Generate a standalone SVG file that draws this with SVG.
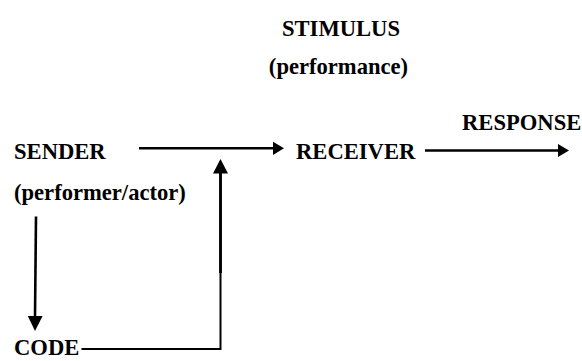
<svg xmlns="http://www.w3.org/2000/svg" width="582" height="361" viewBox="0 0 582 361">
<style>
text{font-family:'Liberation Serif','Times New Roman',serif;font-weight:700;font-size:22.6px;fill:#000}
.c{fill:none;stroke:#000;stroke-width:2.6}
.h{fill:#000}
</style>
<rect width="582" height="361" fill="#fff"/>
<g id="stimulus"><text x="341" y="36" text-anchor="middle">STIMULUS</text><text x="338.5" y="74" text-anchor="middle">(performance)</text></g>
<g id="sender"><text x="14" y="159">SENDER</text><text x="14" y="200">(performer/actor)</text></g>
<g id="receiver"><text x="296" y="158.5">RECEIVER</text></g>
<g id="response"><text x="462" y="130">RESPONSE</text></g>
<g id="code"><text x="14" y="355">CODE</text></g>
<g id="connectors">
<line class="c" x1="139" y1="148.3" x2="274" y2="148.3"/>
<polygon class="h" points="273,141.7 284,148.3 273,155"/>
<line class="c" x1="425" y1="150.5" x2="559" y2="150.5"/>
<polygon class="h" points="558,144 569,150.5 558,157"/>
<line class="c" x1="36" y1="216.5" x2="35" y2="317"/>
<polygon class="h" points="27.8,316 42.6,316 35,331"/>
<polyline class="c" style="stroke-width:2" points="81.5,349 220.5,349 220.5,172"/>
<line class="c" x1="220.5" y1="273" x2="220.5" y2="172" style="stroke-width:2.8"/>
<polygon class="h" points="213,173.5 228,173.5 220.5,159"/>
</g>
</svg>
